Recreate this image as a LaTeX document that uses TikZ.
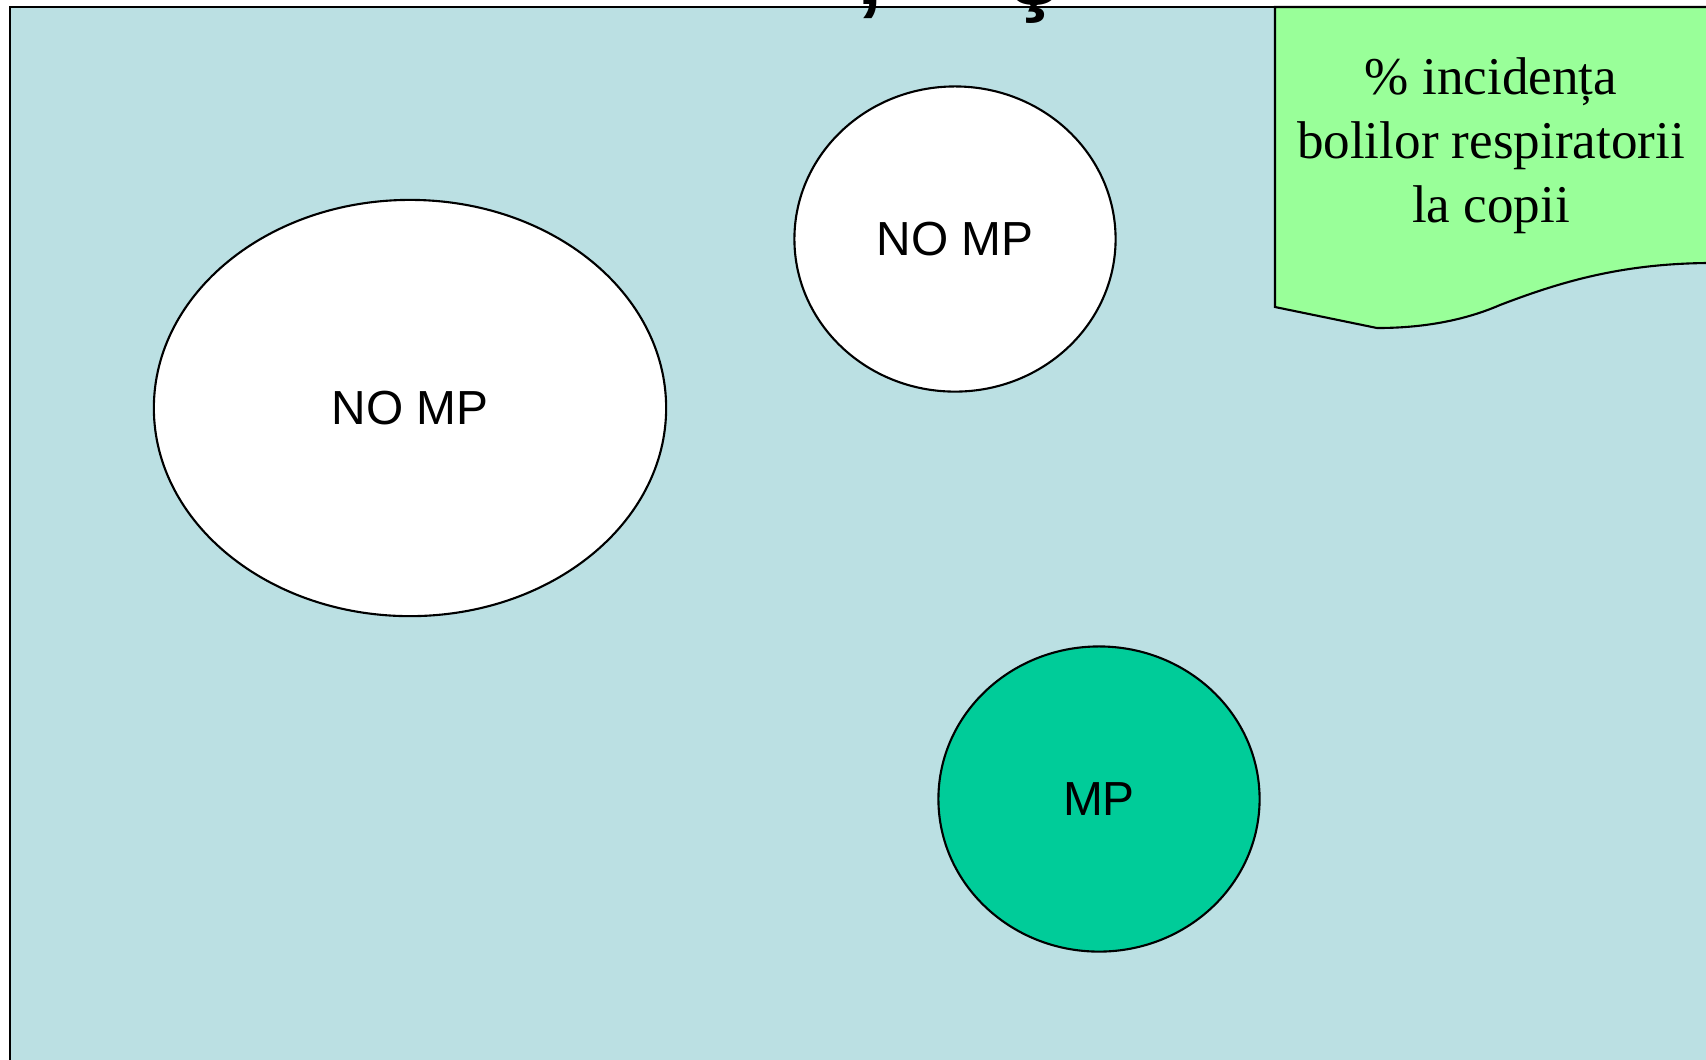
\documentclass[tikz,border=0pt]{standalone}
\usepackage{fontspec}
\setmainfont{Liberation Serif}
\setsansfont{Liberation Sans}
\usetikzlibrary{shapes.geometric}
\definecolor{sea}{HTML}{BBE0E3}
\definecolor{mint}{HTML}{99FF99}
\definecolor{jade}{HTML}{00CC99}

\begin{document}
\begin{tikzpicture}[x=0.01cm,y=-0.01cm,
    blob/.style={ellipse,draw,line width=0.6pt,inner sep=0pt,font=\sffamily\fontsize{13.6}{16}\selectfont},
    small/.style={blob,minimum width=3.21cm,minimum height=3.05cm}]
    \useasboundingbox (0,0) rectangle (1706,1059);
    \clip (0,0) rectangle (1706,1059);
    \draw[fill=sea,line width=0.8pt] (10,7) rectangle (1730,1080);
    \node[anchor=base west,inner sep=0pt,font=\sffamily\bfseries\fontsize{26}{30}\selectfont] (H) at (857,4) {,\hspace{1.265cm}ş};
    \draw[fill=mint,line width=0.6pt] (1730,7) -- (1275,7) -- (1275,307) -- (1377,328)
        .. controls (1430,328) and (1470,318) .. (1500,305)
        .. controls (1560,282) and (1620,264) .. (1706,263) -- (1730,263);
    \node[align=center,font=\fontsize{15.1}{18.2}\selectfont] (T) at (1491,146) {\% incidența\\bolilor respiratorii\\la copii};
    \node[blob,fill=white,minimum width=5.12cm,minimum height=4.16cm] (NA) at (410,408) {NO MP};
    \node[small,fill=white] (NB) at (955,239) {NO MP};
    \node[small,fill=jade] (M) at (1099,799) {MP};
\end{tikzpicture}
\end{document}
